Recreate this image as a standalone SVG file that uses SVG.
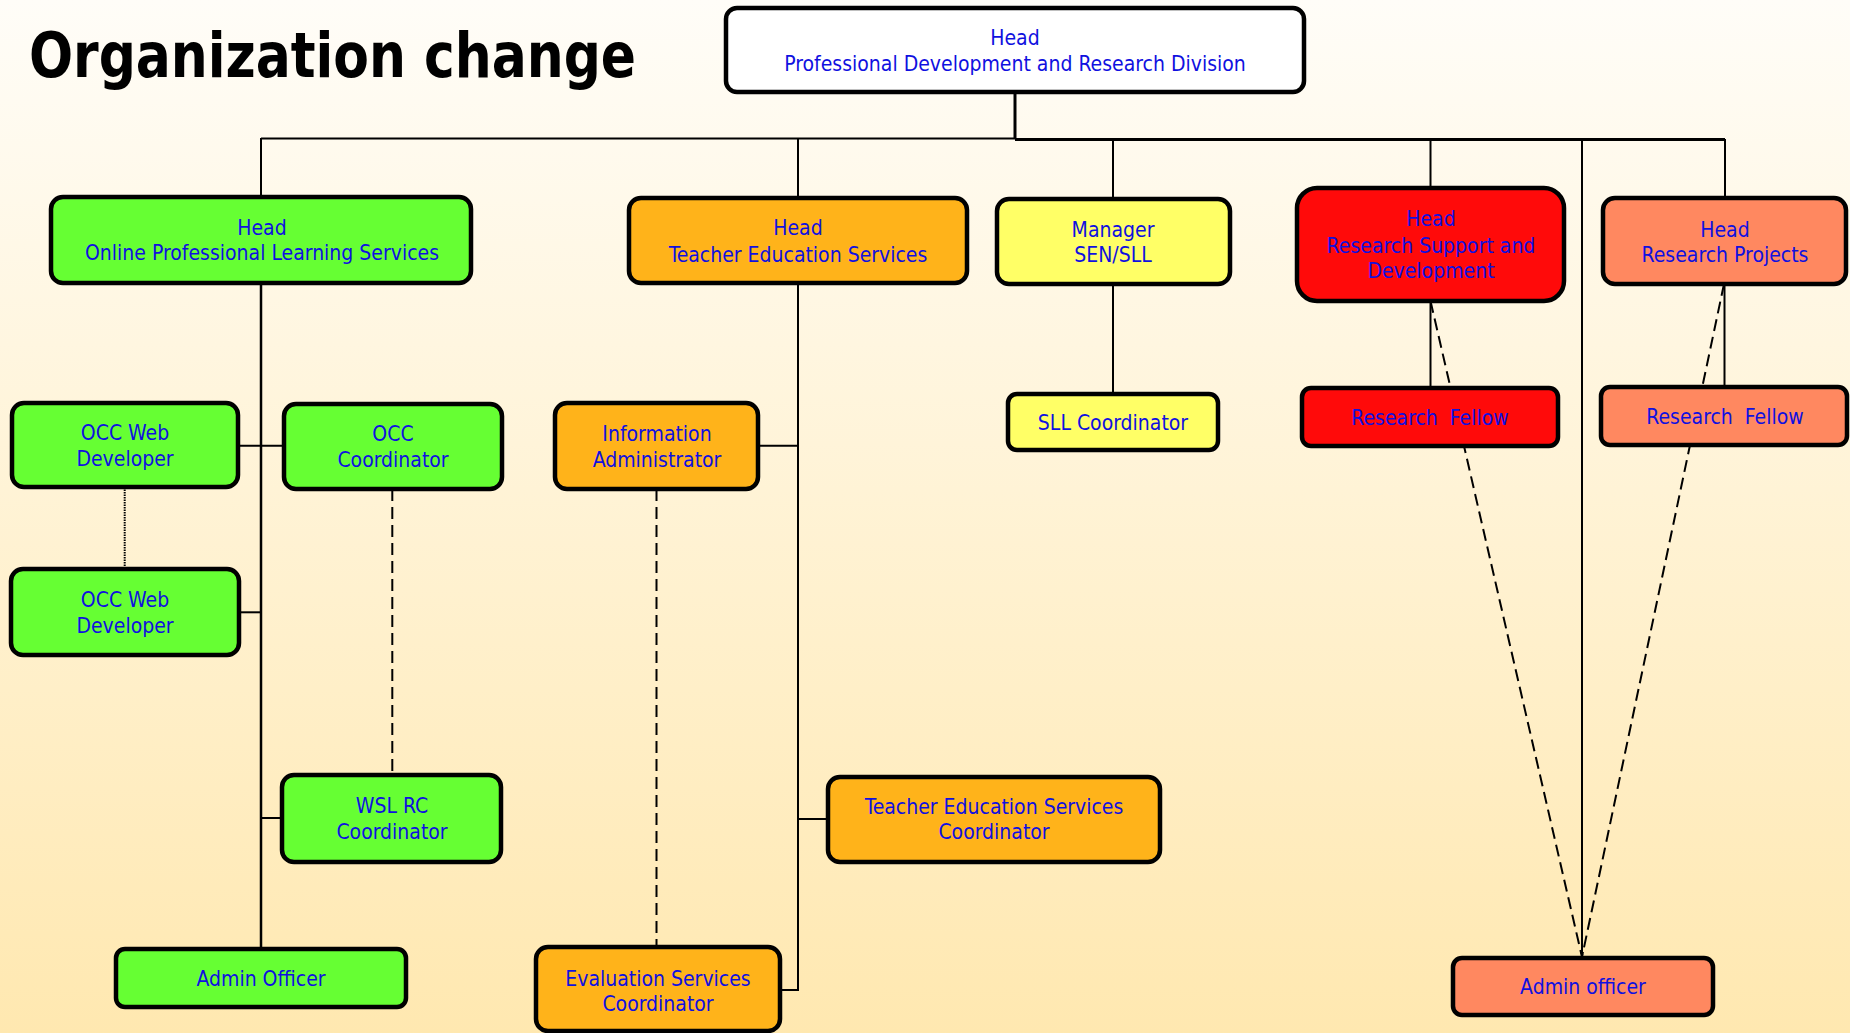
<svg xmlns="http://www.w3.org/2000/svg" width="1850" height="1033" viewBox="0 0 1850 1033">
<defs>
<linearGradient id="bg" x1="0" y1="0" x2="0" y2="1">
<stop offset="0" stop-color="#fffdf8"/>
<stop offset="1" stop-color="#ffe8b0"/>
</linearGradient>
<marker id="arr" viewBox="0 0 10 10" refX="10" refY="5" markerWidth="5" markerHeight="5" orient="auto" markerUnits="userSpaceOnUse">
<path d="M0,1 L10,5 L0,9 Z" fill="#000"/>
</marker>
<style>
.n{stroke:#000;stroke-width:4.5}
.w{fill:#ffffff}.g{fill:#66ff33}.o{fill:#ffb31a}.y{fill:#ffff66}.r{fill:#ff0a0a}.s{fill:#ff8860}
.t{font-family:'DejaVu Sans Condensed','DejaVu Sans',sans-serif;font-stretch:condensed;font-size:21px;fill:#1010e0;text-anchor:middle}
.c{fill:none;stroke:#000;stroke-width:2}
.d{fill:none;stroke:#000;stroke-width:2;stroke-dasharray:12 6}
.dt{fill:none;stroke:#000;stroke-width:2;stroke-dasharray:1.5 1}
</style>
</defs>
<rect x="0" y="0" width="1850" height="1033" fill="url(#bg)"/>
<text x="29" y="77" font-family="'DejaVu Sans Condensed','DejaVu Sans',sans-serif" font-stretch="condensed" font-weight="bold" font-size="62" fill="#000" textLength="607" lengthAdjust="spacingAndGlyphs">Organization change</text>

<g id="connectors">
<path class="c" d="M1015,92 V139" style="stroke-width:3"/>
<path class="c" d="M261,138.5 H1015"/>
<path class="c" d="M1015,139.5 H1725" style="stroke-width:3"/>
<path class="c" d="M261,138 V196"/>
<path class="c" d="M798,138 V197"/>
<path class="c" d="M1113,139 V197"/>
<path class="c" d="M1430.5,139 V188"/>
<path class="c" d="M1725,139 V198"/>
<path class="c" d="M1582,139 V957" marker-end="url(#arr)"/>
<path class="c" d="M261,283 V949" style="stroke-width:2.5"/>
<path class="c" d="M238,445.7 H284"/>
<path class="c" d="M239,612.3 H261"/>
<path class="c" d="M261,818 H282"/>
<path class="c" d="M798,283 V990 H780"/>
<path class="c" d="M758,445.7 H798"/>
<path class="c" d="M798,819 H828"/>
<path class="c" d="M1113,283 V394"/>
<path class="c" d="M1430.5,301 V388"/>
<path class="c" d="M1724.5,284 V387"/>
<path class="dt" d="M124.7,487 V569"/>
<path class="d" d="M392.3,489 V775"/>
<path class="d" d="M656.5,489 V947"/>
<path class="d" d="M1430.5,301 L1582,957"/>
<path class="d" d="M1724,284 L1582,957"/>
</g>

<g id="n-top"><rect class="n w" x="726" y="8" width="578" height="84" rx="11"/>
<text class="t" x="1015" y="45">Head</text><text class="t" x="1015" y="71">Professional Development and Research Division</text></g>

<g id="n-opls"><rect class="n g" x="51" y="197" width="420" height="86" rx="12"/>
<text class="t" x="262" y="235">Head</text><text class="t" x="262" y="260">Online Professional Learning Services</text></g>

<g id="n-tes"><rect class="n o" x="629" y="198" width="338" height="85" rx="12"/>
<text class="t" x="798" y="235">Head</text><text class="t" x="798" y="261.5">Teacher Education Services</text></g>

<g id="n-sen"><rect class="n y" x="997" y="199" width="233" height="85" rx="12"/>
<text class="t" x="1113" y="237">Manager</text><text class="t" x="1113" y="262">SEN/SLL</text></g>

<g id="n-rsd"><rect class="n r" x="1297" y="188" width="267" height="113" rx="20"/>
<text class="t" x="1431" y="226">Head</text><text class="t" x="1431" y="253">Research Support and</text><text class="t" x="1431" y="278">Development</text></g>

<g id="n-rp"><rect class="n s" x="1603" y="198" width="243" height="86" rx="12"/>
<text class="t" x="1725" y="237">Head</text><text class="t" x="1725" y="262">Research Projects</text></g>

<g id="n-rf1"><rect class="n r" x="1302" y="388" width="256" height="58" rx="9"/>
<text class="t" x="1430" y="425" xml:space="preserve">Research  Fellow</text></g>

<g id="n-rf2"><rect class="n s" x="1601" y="387" width="246" height="58" rx="9"/>
<text class="t" x="1725" y="424" xml:space="preserve">Research  Fellow</text></g>

<g id="n-sll"><rect class="n y" x="1008" y="394" width="210" height="56" rx="9"/>
<text class="t" x="1113" y="430">SLL Coordinator</text></g>

<g id="n-wd1"><rect class="n g" x="12" y="403" width="226" height="84" rx="12"/>
<text class="t" x="125" y="440">OCC Web</text><text class="t" x="125" y="465.5">Developer</text></g>

<g id="n-occc"><rect class="n g" x="284" y="404" width="218" height="85" rx="12"/>
<text class="t" x="393" y="441">OCC</text><text class="t" x="393" y="466.5">Coordinator</text></g>

<g id="n-wd2"><rect class="n g" x="11" y="569" width="228" height="86" rx="12"/>
<text class="t" x="125" y="607">OCC Web</text><text class="t" x="125" y="633">Developer</text></g>

<g id="n-ia"><rect class="n o" x="555" y="403" width="203" height="86" rx="12"/>
<text class="t" x="657" y="441">Information</text><text class="t" x="657" y="466.5">Administrator</text></g>

<g id="n-wsl"><rect class="n g" x="282" y="775" width="219" height="87" rx="12"/>
<text class="t" x="392" y="813">WSL RC</text><text class="t" x="392" y="839">Coordinator</text></g>

<g id="n-tesc"><rect class="n o" x="828" y="777" width="332" height="85" rx="12"/>
<text class="t" x="994" y="814">Teacher Education Services</text><text class="t" x="994" y="839">Coordinator</text></g>

<g id="n-ao1"><rect class="n g" x="116" y="949" width="290" height="58" rx="9"/>
<text class="t" x="261" y="986">Admin Officer</text></g>

<g id="n-esc"><rect class="n o" x="536" y="947" width="244" height="84" rx="12"/>
<text class="t" x="658" y="985.5">Evaluation Services</text><text class="t" x="658" y="1010.5">Coordinator</text></g>

<g id="n-ao2"><rect class="n s" x="1453" y="958" width="260" height="57" rx="9"/>
<text class="t" x="1583" y="994">Admin officer</text></g>
</svg>
